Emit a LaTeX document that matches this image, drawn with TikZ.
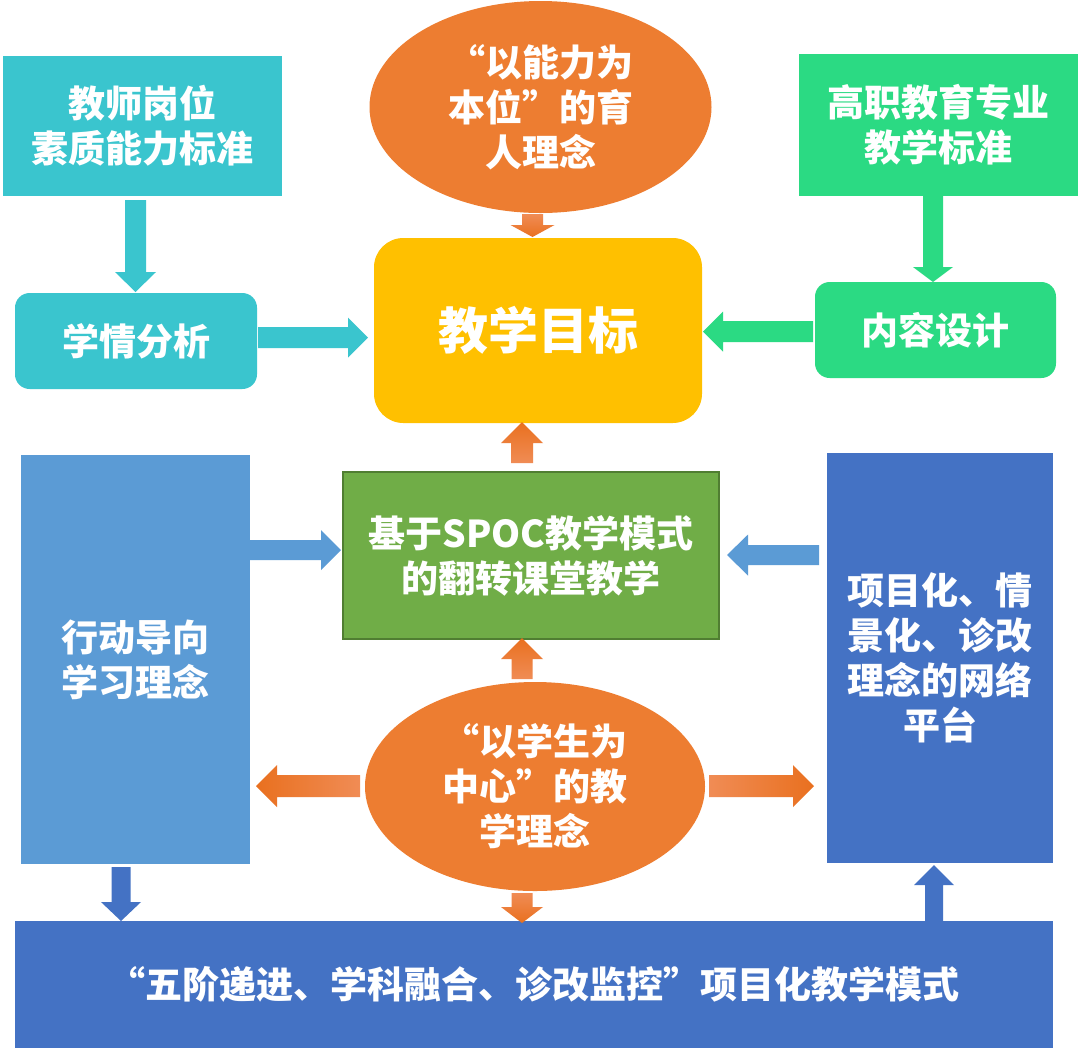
\documentclass[tikz,border=0pt]{standalone}
\usepackage{fontspec}
\setmainfont{Noto Sans CJK SC}
\usetikzlibrary{shapes.geometric}
\definecolor{teal1}{HTML}{3AC5CE}
\definecolor{green1}{HTML}{2BDA83}
\definecolor{gold1}{HTML}{FFC000}
\definecolor{orange1}{HTML}{ED7D31}
\definecolor{oD}{HTML}{E9701F}
\definecolor{oM}{HTML}{F4832F}
\definecolor{oL}{HTML}{F08C55}
\definecolor{spocfill}{HTML}{70AD47}
\definecolor{spocline}{HTML}{507E32}
\definecolor{lblue}{HTML}{5B9BD5}
\definecolor{dblue}{HTML}{4472C4}
\newcommand{\myvarrow}[7]{\path[#1] ({#2-#6},#3) -- ({#2+#6},#3) -- ({#2+#6},#4) -- ({#2+#7},#4) -- (#2,#5) -- ({#2-#7},#4) -- ({#2-#6},#4) -- cycle;}
\newcommand{\myharrow}[7]{\path[#1] (#3,{#2-#6}) -- (#3,{#2+#6}) -- (#4,{#2+#6}) -- (#4,{#2+#7}) -- (#5,#2) -- (#4,{#2-#7}) -- (#4,{#2-#6}) -- cycle;}
\tikzset{
  txt/.style={inner sep=0pt, outer sep=0pt, text=white, align=center,
    font=\bfseries\fontsize{27.75}{33.75}\selectfont},
  sqbox/.style={txt, rectangle},
  rbox/.style={txt, rectangle, rounded corners=11pt},
  ebox/.style={txt, ellipse, fill=orange1},
}
\begin{document}
\begin{tikzpicture}[x=0.75pt,y=-0.75pt]
\useasboundingbox[fill=white] (0,0) rectangle (1081,1051);
% nodes
\node[sqbox, fill=teal1, minimum width=209.25pt, minimum height=105pt] (n1) at (142.5,126) {教师岗位\\素质能力标准};
\node[rbox, fill=teal1, minimum width=181.5pt, minimum height=72pt] (n2) at (136,341) {学情分析};
\node[ebox, minimum width=256.5pt, minimum height=159pt] (n3) at (540.5,107) {“以能力为\\本位”的育\\人理念};
\node[txt, rectangle, rounded corners=22pt, fill=gold1, minimum width=246pt, minimum height=138.75pt,
  font=\bfseries\fontsize{37.5}{45}\selectfont] (n4) at (538,330.5) {教学目标};
\node[sqbox, fill=green1, minimum width=209.25pt, minimum height=106.5pt] (n5) at (938.5,125) {高职教育专业\\教学标准};
\node[rbox, fill=green1, minimum width=180.75pt, minimum height=72pt] (n6) at (935.5,330) {内容设计};
\node[sqbox, fill=spocfill, draw=spocline, line width=1.5pt, minimum width=282pt, minimum height=125.25pt] (n7) at (531,555.5) {基于SPOC教学模式\\的翻转课堂教学};
\node[sqbox, fill=lblue, minimum width=171.75pt, minimum height=306.75pt] (n8) at (135.5,659.5) {行动导向\\学习理念};
\node[sqbox, fill=dblue, minimum width=169.5pt, minimum height=307.5pt] (n9) at (940,658) {项目化、情\\景化、诊改\\理念的网络\\平台};
\node[ebox, minimum width=255pt, minimum height=156.75pt] (n10) at (535,786.5) {“以学生为\\中心”的教\\学理念};
\node[sqbox, fill=dblue, minimum width=778.5pt, minimum height=95.25pt] (n11) at (534,984.5) {“五阶递进、学科融合、诊改监控”项目化教学模式};
% block arrows
\myvarrow{fill=teal1}{135.5}{200}{272}{292}{10.5}{20.5}
\myharrow{fill=teal1}{337.5}{258}{348}{368}{10.5}{20}
\myvarrow{fill=green1}{933}{196}{267}{282}{10}{20}
\myharrow{fill=green1}{331.5}{813}{723}{703}{10.5}{20}
\myvarrow{top color=oL, bottom color=oD}{532.5}{214}{225}{237}{10.5}{22}
\myvarrow{top color=oD, bottom color=oL}{522}{463}{443}{422}{11}{21}
\myharrow{fill=lblue}{550}{250}{321}{341}{10}{20}
\myharrow{fill=lblue}{555}{819}{748}{727}{10}{20.5}
\myvarrow{top color=oD, bottom color=oL}{522}{679}{659}{638}{10.5}{21}
\myharrow{left color=oD, middle color=oM, right color=oL}{786}{360}{277}{256}{11}{21}
\myharrow{left color=oL, middle color=oM, right color=oD}{786}{709}{793}{814}{11}{21}
\myvarrow{top color=oL, bottom color=oD}{522}{893}{907}{923}{10.5}{21}
\myvarrow{fill=dblue}{121}{867}{902}{921}{9.5}{20}
\myvarrow{fill=dblue}{934}{921}{885}{865}{9}{20}
\end{tikzpicture}
\end{document}
